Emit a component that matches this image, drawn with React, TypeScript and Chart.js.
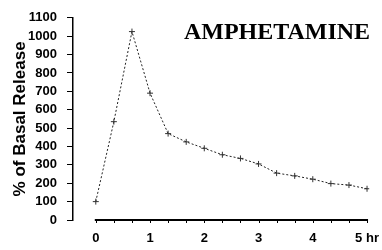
import React, { useEffect, useRef } from "react";
import { Chart, registerables } from "chart.js";

Chart.register(...registerables);

const minutes = [0, 20, 40, 60, 80, 100, 120, 140, 160, 180, 200, 220, 240, 260, 280, 300];
const release = [100, 535, 1025, 690, 470, 425, 390, 355, 335, 305, 255, 240, 222, 198, 190, 170];
const hourTicks = [0, 1, 2, 3, 4, 5];
const minorTickMinutes = [0, 20, 40, 60, 80, 100, 120, 140, 160, 180, 200, 220, 240, 260, 280, 300];
const chartTitle = "AMPHETAMINE";
const yTitle = "% of Basal Release";

const axisPlugin = {
  id: "customAxis",
  afterDraw(chart: any) {
    const ctx = chart.ctx;
    const xs = chart.scales.x;
    const area = chart.chartArea;
    const yb = area.bottom;
    ctx.save();
    ctx.strokeStyle = "#000";
    ctx.lineWidth = 2;
    ctx.beginPath();
    ctx.moveTo(xs.getPixelForValue(0) - 1, yb);
    ctx.lineTo(xs.getPixelForValue(5) + 1, yb);
    ctx.stroke();
    ctx.lineWidth = 1;
    minorTickMinutes.forEach((m) => {
      const px = Math.round(xs.getPixelForValue(m / 60)) + 0.5;
      ctx.beginPath();
      ctx.moveTo(px, yb);
      ctx.lineTo(px, yb + 3);
      ctx.stroke();
    });
    ctx.fillStyle = "#000";
    ctx.font = "bold 24px 'Liberation Serif'";
    ctx.textAlign = "center";
    ctx.textBaseline = "middle";
    ctx.fillText(chartTitle, 277, 33);
    ctx.restore();
  },
};

export default function App() {
  const ref = useRef<HTMLCanvasElement>(null);
  useEffect(() => {
    if (!ref.current) return;
    const chart = new Chart(ref.current, {
      type: "line",
      data: {
        datasets: [
          {
            data: minutes.map((m, i) => ({ x: m / 60, y: release[i] })),
            borderColor: "#222",
            borderWidth: 1,
            borderDash: [2, 2],
            pointStyle: "cross",
            pointRadius: 3,
            pointBorderColor: "#333",
            pointBorderWidth: 1,
            tension: 0,
          },
        ],
      },
      options: {
        responsive: false,
        animation: false,
        layout: { padding: { top: 14, right: 0, bottom: 0, left: 0 } },
        plugins: { legend: { display: false }, tooltip: { enabled: false } },
        scales: {
          x: {
            type: "linear",
            min: -0.42,
            max: 5.04,
            grid: { display: false },
            border: { display: false },
            afterBuildTicks: (s: any) => {
              s.ticks = hourTicks.map((v) => ({ value: v }));
            },
            afterFit: (s: any) => {
              s.height = 30;
            },
            ticks: {
              includeBounds: false,
              autoSkip: false,
              maxRotation: 0,
              padding: 3,
              color: "#000",
              font: { family: "'Liberation Sans'", weight: "bold", size: 13 },
              callback: (v: any) => (v === 5 ? "5 hr" : String(v)),
            },
          },
          y: {
            min: 0,
            max: 1100,
            afterFit: (s: any) => {
              s.width = 73;
            },
            grid: { drawOnChartArea: false, tickLength: 6, color: "#000", lineWidth: 1 },
            border: { display: true, color: "#000", width: 1.5 },
            ticks: {
              stepSize: 100,
              autoSkip: false,
              padding: 10,
              color: "#000",
              font: { family: "'Liberation Sans'", weight: "bold", size: 13 },
              callback: (v: any) => String(v),
            },
            title: {
              display: true,
              text: yTitle,
              color: "#000",
              padding: { top: 10, bottom: 0 },
              font: { family: "'Liberation Sans'", weight: "bold", size: 17 },
            },
          },
        },
      },
      plugins: [axisPlugin],
    } as any);
    return () => chart.destroy();
  }, []);
  return (
    <div style={{ position: "absolute", left: 0, top: 0, width: 382, height: 250, background: "#fff" }}>
      <canvas ref={ref} width={382} height={250} />
    </div>
  );
}
